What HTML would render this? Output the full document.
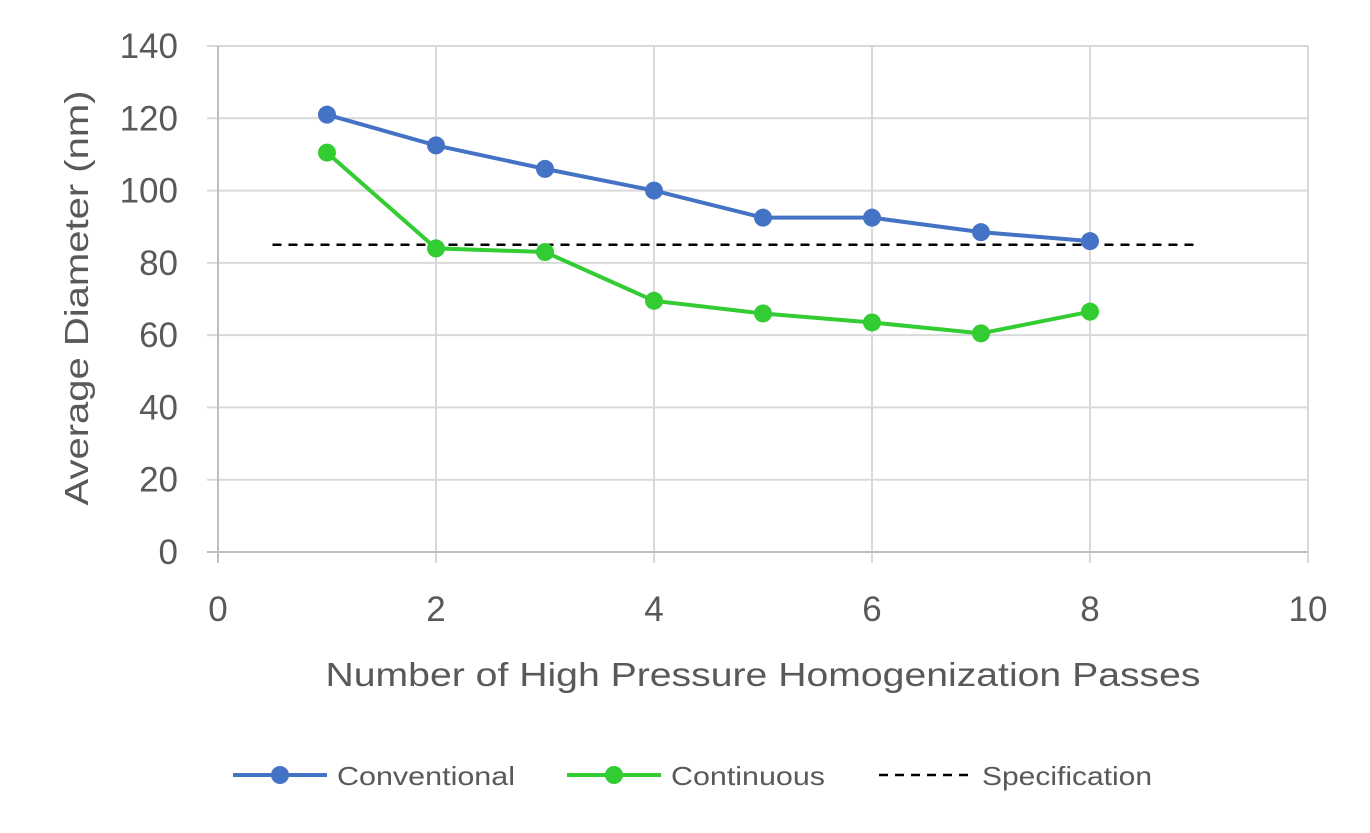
<!DOCTYPE html>
<html><head><meta charset="utf-8"><style>
body{margin:0;background:#fff;width:1370px;height:828px;overflow:hidden;font-family:"Liberation Sans",sans-serif}
</style></head><body>
<svg width="1370" height="828" xmlns="http://www.w3.org/2000/svg" font-family="Liberation Sans, sans-serif">
<g id="grid"></g>
<g id="axes"></g>
<g id="series"></g>
<text transform="translate(88,298) rotate(-90)" text-anchor="middle" font-size="33" fill="#595959" textLength="415" lengthAdjust="spacingAndGlyphs">Average Diameter (nm)</text>
<text x="763" y="686" text-anchor="middle" font-size="33" fill="#595959" textLength="875" lengthAdjust="spacingAndGlyphs">Number of High Pressure Homogenization Passes</text>
<g font-size="26" fill="#595959">
<g><line x1="233" y1="775" x2="327" y2="775" stroke="#4472C4" stroke-width="4"/><circle cx="280" cy="775" r="9" fill="#4472C4"/><text x="337" y="785" textLength="178" lengthAdjust="spacingAndGlyphs">Conventional</text></g>
<g><line x1="567" y1="775" x2="661" y2="775" stroke="#33CC33" stroke-width="4"/><circle cx="614" cy="775" r="9" fill="#33CC33"/><text x="671" y="785" textLength="154" lengthAdjust="spacingAndGlyphs">Continuous</text></g>
<g><line x1="879" y1="775" x2="972" y2="775" stroke="#000" stroke-width="2.5" stroke-dasharray="9,7"/><text x="982" y="785" textLength="170" lengthAdjust="spacingAndGlyphs">Specification</text></g>
</g>
</svg>
<script>
const xTicks=[0,2,4,6,8,10];
const yTicks=[0,20,40,60,80,100,120,140];
const passes=[1,2,3,4,5,6,7,8];
const conventional=[121,112.5,106,100,92.5,92.5,88.5,86];
const continuous=[110.5,84,83,69.5,66,63.5,60.5,66.5];
const specX=[0.5,9];
const specY=[85,85];
const NS="http://www.w3.org/2000/svg";
const X=v=>218+v*109, Y=v=>552-v*506/140;
function mk(tag,attrs,parent){const e=document.createElementNS(NS,tag);for(const k in attrs)e.setAttribute(k,attrs[k]);parent.appendChild(e);return e;}
const grid=document.getElementById('grid'),axes=document.getElementById('axes'),ser=document.getElementById('series');
yTicks.forEach(t=>{
 if(t>0){const l=mk('line',{x1:207,x2:1308,y1:Y(t),y2:Y(t),stroke:'#d9d9d9','stroke-width':2},grid);
 
 }
 const tx=mk('text',{x:178,y:Y(t)+12,'text-anchor':'end','font-size':35,fill:'#595959'},axes);tx.textContent=t;
 
 
});
xTicks.forEach(t=>{
 if(t>0){const l=mk('line',{x1:X(t),x2:X(t),y1:Y(140),y2:563,stroke:'#d9d9d9','stroke-width':2},grid);
 
 }
 const tx=mk('text',{x:X(t),y:621,'text-anchor':'middle','font-size':35,fill:'#595959'},axes);tx.textContent=t;
 
 
});
const xa=mk('line',{x1:207,x2:1308,y1:552,y2:552,stroke:'#bfbfbf','stroke-width':2},axes);


const ya=mk('line',{x1:218,x2:218,y1:Y(140),y2:563,stroke:'#bfbfbf','stroke-width':2},axes);


const sp=mk('line',{x1:X(specX[0]),x2:X(specX[1]),y1:Y(specY[0]),y2:Y(specY[1]),stroke:'#000','stroke-width':2.5,'stroke-dasharray':'9,7'},ser);


function series(vals,color,name){
 const p=mk('polyline',{points:vals.map((v,i)=>X(passes[i])+','+Y(v)).join(' '),fill:'none',stroke:color,'stroke-width':4},ser);
 
 
 vals.forEach((v,i)=>{const c=mk('circle',{cx:X(passes[i]),cy:Y(v),r:9,fill:color},ser);
 
 });
}
series(conventional,'#4472C4','conventional');
series(continuous,'#33CC33','continuous');
</script>
</body></html>
